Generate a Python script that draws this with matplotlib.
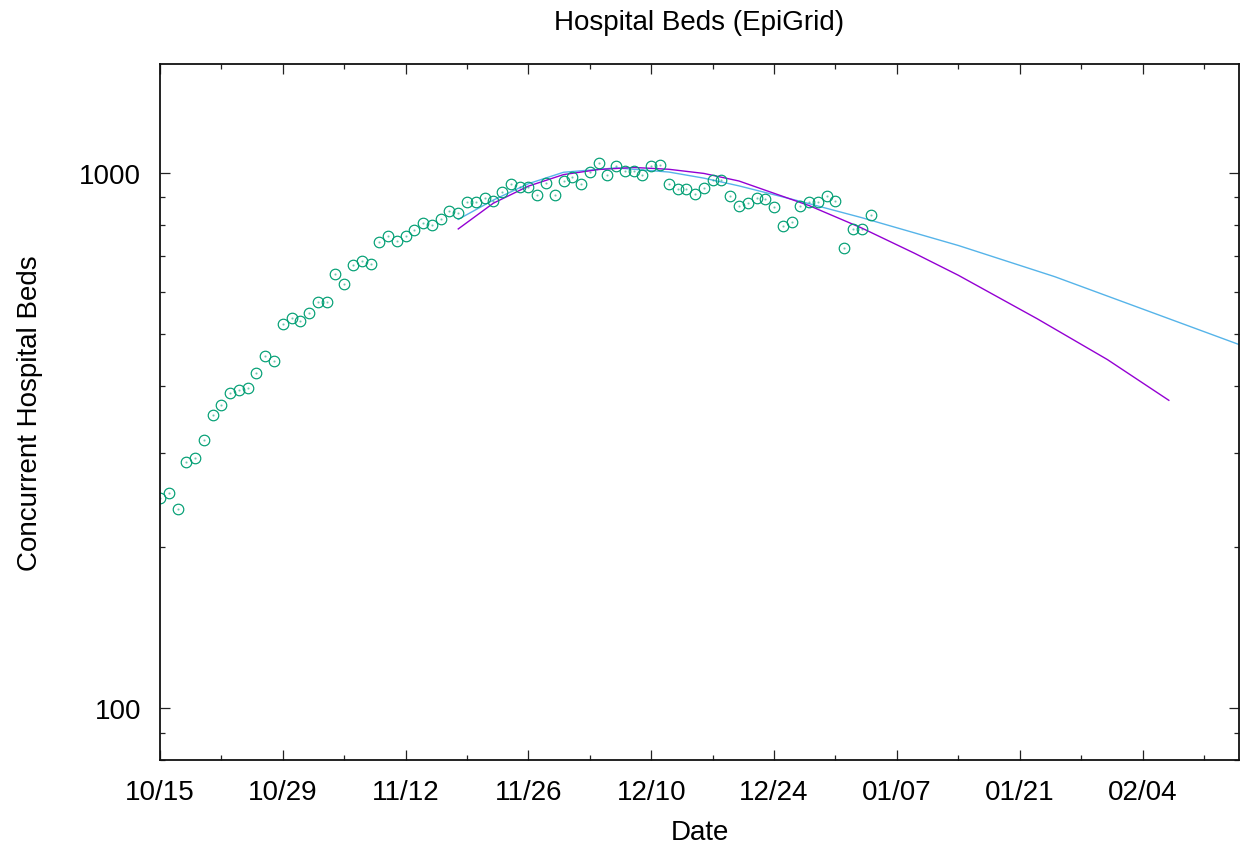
import matplotlib
matplotlib.use("Agg")
import matplotlib.pyplot as plt
import matplotlib.ticker as mticker
import numpy as np

plt.rcParams["font.family"] = ["Liberation Sans", "DejaVu Sans"]

# daily concurrent beds, one value per day starting 10/15
beds = [247, 252, 236, 288, 293, 317, 353, 368, 388, 393,
        396, 423, 455, 445, 522, 535, 530, 547, 574, 574,
        648, 621, 672, 686, 676, 743, 761, 745, 764, 781,
        807, 801, 821, 849, 842, 881, 883, 897, 885, 922,
        952, 940, 943, 911, 958, 908, 965, 984, 955, 1006,
        1045, 991, 1031, 1007, 1010, 993, 1029, 1036, 954, 932,
        932, 912, 938, 969, 969, 906, 866, 879, 897, 893,
        863, 797, 809, 866, 883, 883, 906, 886, 724, 787,
        785, 836]

# fitted projections (days since 10/15, beds)
fit_blue_days = [34, 38, 42, 46, 52, 58, 62, 66, 73, 80, 91, 102, 112, 123]
fit_blue_vals = [819, 890, 955, 1003, 1022, 1004, 978, 946, 885, 825, 732, 640, 557, 478]

fit_purple_days = [34, 38, 42, 46, 50, 54, 58, 62, 66, 74, 80, 86, 91, 100, 108, 115]
fit_purple_vals = [786, 878, 945, 993, 1015, 1024, 1016, 998, 966, 869, 789, 708, 644, 534, 448, 376]

tick_labels = ["10/15", "10/29", "11/12", "11/26", "12/10",
               "12/24", "01/07", "01/21", "02/04"]

fig = plt.figure(figsize=(12.43, 8.45), dpi=100, facecolor="white")
ax = fig.add_axes([0.1287, 0.0994, 0.8681, 0.824])

days = np.arange(len(beds))
ax.plot(fit_blue_days, fit_blue_vals, color="#56b4e9", linewidth=1.0)
ax.plot(fit_purple_days, fit_purple_vals, color="#9400d3", linewidth=1.0)
ax.plot(days, beds, linestyle="none", marker="o", markersize=7.6,
        markerfacecolor="none", markeredgecolor="#009e73", markeredgewidth=0.85)
ax.plot(days, beds, linestyle="none", marker=".", markersize=1.2,
        color="#009e73", alpha=0.5)

ax.set_yscale("log")
ax.set_xlim(0, 123)
ax.set_ylim(80, 1600)

ax.set_xticks(np.arange(len(tick_labels)) * 14)
ax.set_xticklabels(tick_labels)
ax.xaxis.set_minor_locator(mticker.MultipleLocator(7))

ax.yaxis.set_major_locator(mticker.FixedLocator([100, 1000]))
ax.yaxis.set_major_formatter(mticker.FixedFormatter(["100", "1000"]))
ax.yaxis.set_minor_locator(mticker.LogLocator(base=10, subs=np.arange(2, 10)))
ax.yaxis.set_minor_formatter(mticker.NullFormatter())

ax.tick_params(which="both", direction="in", top=True, right=True,
               labelsize=20, color="#222222")
ax.tick_params(which="major", length=7.2, width=0.9, pad=13.5)
ax.tick_params(which="minor", length=3.6, width=0.9)
for sp in ax.spines.values():
    sp.set_linewidth(1.3)
    sp.set_color("#111111")

fig.text(0.5628, 1 - 22.5 / 845, "Hospital Beds (EpiGrid)",
         ha="center", va="center", fontsize=20)
fig.text(0.5628, 1 - 840 / 845, "Date", ha="center", va="baseline", fontsize=20)
fig.text(30 / 1243, 1 - 413 / 845, "Concurrent Hospital Beds",
         ha="center", va="center", rotation=90, fontsize=20)

fig.savefig("out.png", dpi=100, facecolor="white")
